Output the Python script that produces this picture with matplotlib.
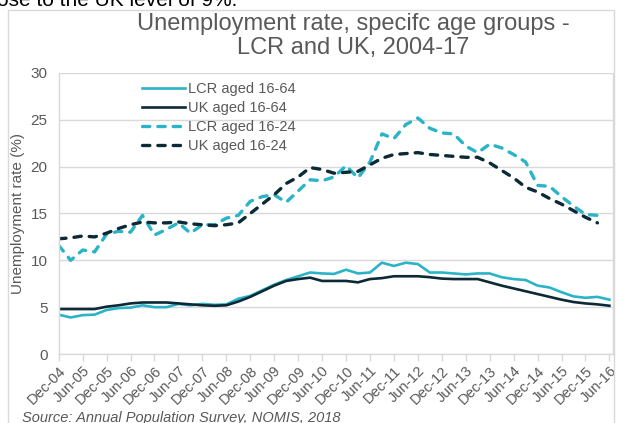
import numpy as np
import matplotlib.pyplot as plt
from matplotlib.patches import Rectangle

# ------------------------------------------------------------------
# Data (quarterly, Dec-04 .. Jun-16)
# ------------------------------------------------------------------
lcr_16_64 = [4.2, 3.9, 4.15, 4.2, 4.7, 4.9, 4.95, 5.2, 5.0, 5.0,
             5.35, 5.2, 5.35, 5.25, 5.3, 5.9, 6.2, 6.8, 7.4, 7.9,
             8.3, 8.7, 8.6, 8.55, 9.0, 8.6, 8.7, 9.75, 9.4, 9.75,
             9.6, 8.7, 8.7, 8.6, 8.5, 8.6, 8.6, 8.2, 8.0, 7.9,
             7.3, 7.1, 6.6, 6.15, 6.0, 6.1, 5.8]
uk_16_64 = [4.8, 4.8, 4.8, 4.8, 5.05, 5.2, 5.4, 5.5, 5.5, 5.5,
            5.4, 5.3, 5.2, 5.15, 5.2, 5.6, 6.1, 6.7, 7.3, 7.8,
            8.0, 8.15, 7.8, 7.8, 7.8, 7.65, 8.0, 8.1, 8.3, 8.3,
            8.3, 8.2, 8.05, 8.0, 8.0, 8.0, 7.65, 7.3, 7.0, 6.7,
            6.4, 6.1, 5.8, 5.55, 5.4, 5.3, 5.15]
lcr_16_24 = [11.6, 10.0, 11.1, 10.9, 12.8, 13.1, 13.0, 14.8, 12.7, 13.3,
             14.0, 12.9, 13.8, 13.8, 14.5, 14.8, 16.3, 16.8, 17.0, 16.2,
             17.4, 18.6, 18.5, 18.9, 20.1, 18.8, 20.5, 23.5, 23.0, 24.5,
             25.2, 24.1, 23.6, 23.5, 22.2, 21.5, 22.4, 22.0, 21.3, 20.5,
             18.0, 17.9, 16.8, 15.8, 14.9, 14.8, np.nan]
uk_16_24 = [12.3, 12.4, 12.6, 12.5, 12.9, 13.4, 13.8, 14.1, 14.0, 14.0,
            14.1, 13.9, 13.8, 13.7, 13.8, 14.0, 15.0, 16.0, 17.0, 18.2,
            18.9, 19.9, 19.7, 19.3, 19.4, 19.5, 20.2, 20.9, 21.3, 21.4,
            21.5, 21.3, 21.2, 21.1, 21.0, 21.0, 20.4, 19.6, 18.8, 17.8,
            17.3, 16.6, 16.0, 15.3, 14.6, 14.0, np.nan]

tick_labels = ['Dec-04', 'Jun-05', 'Dec-05', 'Jun-06', 'Dec-06', 'Jun-07',
               'Dec-07', 'Jun-08', 'Dec-08', 'Jun-09', 'Dec-09', 'Jun-10',
               'Dec-10', 'Jun-11', 'Dec-11', 'Jun-12', 'Dec-12', 'Jun-13',
               'Dec-13', 'Jun-14', 'Dec-14', 'Jun-15', 'Dec-15', 'Jun-16']

teal = '#2BB3C7'
navy = '#0C2A36'
grey_txt = '#595959'
grid_c = '#D9D9D9'

plt.rcParams['font.family'] = ['Liberation Sans', 'DejaVu Sans']

W, H = 629, 423
fig = plt.figure(figsize=(W / 100, H / 100), dpi=100)

# outer chart border and the clipped line of body text above it
fig.patches.append(Rectangle((8 / W, -0.1), 606 / W, 1.1 - 10 / H,
                             transform=fig.transFigure, fill=False,
                             edgecolor=grid_c, linewidth=1.0))
fig.text(-0.004, 1 - 6 / H, 'ose to the UK level of 9%.', fontsize=15,
         color='black', va='baseline', ha='left')

ax = fig.add_axes([58.7 / W, 1 - 354 / H, (613 - 58.7) / W, (354 - 73) / H])

x = np.arange(len(lcr_16_64))
ax.plot(x, lcr_16_64, color=teal, lw=1.9, label='LCR aged 16-64')
ax.plot(x, uk_16_64, color=navy, lw=1.9, label='UK aged 16-64')
ax.plot(x, lcr_16_24, color=teal, lw=2.4, dashes=(2.2, 2.4),
        dash_capstyle='round', label='LCR aged 16-24')
ax.plot(x, uk_16_24, color=navy, lw=2.4, dashes=(2.2, 2.4),
        dash_capstyle='round', label='UK aged 16-24')

ax.set_xlim(0, 46.3)
ax.set_ylim(0, 30)
ax.set_yticks(range(0, 31, 5))
ax.set_xticks(np.arange(0, 47, 2))
ax.set_xticklabels(tick_labels, rotation=45, ha='right',
                   rotation_mode='anchor')
ax.tick_params(axis='x', colors=grid_c, labelcolor=grey_txt, labelsize=10.5,
               length=5, width=1, pad=2)
ax.tick_params(axis='y', length=0, labelcolor=grey_txt, labelsize=11,
               pad=8)
ax.grid(axis='y', color=grid_c, lw=1)
ax.set_axisbelow(True)
ax.spines['top'].set_visible(False)
for side in ['left', 'right', 'bottom']:
    ax.spines[side].set_color(grid_c)
    ax.spines[side].set_linewidth(1)

ax.set_ylabel('Unemployment rate (%)', fontsize=11, color=grey_txt,
              labelpad=4)

leg = ax.legend(loc='upper left', bbox_to_anchor=(0.135, 1.0), frameon=False,
                fontsize=10.5, handlelength=2.95, handletextpad=0.2,
                labelspacing=0.35, borderaxespad=0.2)
for t in leg.get_texts():
    t.set_color(grey_txt)

fig.text(353 / W, 1 - 36 / H,
         'Unemployment rate, specifc age groups -\nLCR and UK, 2004-17',
         ha='center', va='center', fontsize=17, color=grey_txt,
         linespacing=1.08)

fig.text(22 / W, 1 - 422 / H, 'Source: Annual Population Survey, NOMIS, 2018',
         fontsize=10.5, style='italic', color=grey_txt, ha='left',
         va='baseline')

fig.savefig('out.png', dpi=100)
